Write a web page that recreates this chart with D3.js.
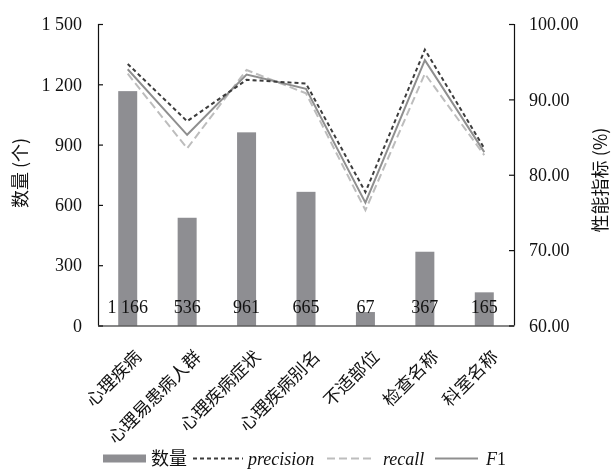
<!DOCTYPE html>
<html>
<head>
<meta charset="utf-8">
<script src="https://cdn.jsdelivr.net/npm/d3@7"></script>
<style>
  html, body { margin: 0; padding: 0; background: #fff; }
  svg { display: block; will-change: transform; }
  text { font-family: "Liberation Serif", "Noto Sans CJK SC", serif; fill: #111; }
  .cjk { font-family: "Noto Sans CJK SC", "Liberation Serif", serif; }
</style>
</head>
<body>
<svg id="chart" width="612" height="469"></svg>
<script>
const categories = ["心理疾病", "心理易患病人群", "心理疾病症状", "心理疾病别名", "不适部位", "检查名称", "科室名称"];
const counts = [1166, 536, 961, 665, 67, 367, 165];
const precision = [94.7, 87.1, 92.6, 92.1, 77.7, 96.6, 83.5];
const recall = [93.4, 83.5, 93.9, 90.8, 75.3, 93.4, 82.6];
const f1 = [94.0, 85.3, 93.3, 91.4, 76.3, 95.2, 83.0];
const leftTicks = [0, 300, 600, 900, 1200, 1500];
const rightTicks = [60, 70, 80, 90, 100];

const svg = d3.select("#chart");
const x0 = 98, x1 = 514, yTop = 24, yBot = 325.5;

const x = d3.scaleBand().domain(categories).range([x0, x1]).paddingInner(0).paddingOuter(0);
const yL = d3.scaleLinear().domain([0, 1500]).range([yBot, yTop]);
const yR = d3.scaleLinear().domain([60, 100]).range([yBot, yTop]);

const loc = d3.formatLocale({decimal: ".", thousands: " ", grouping: [3], currency: ["", ""]});
const fmtInt = loc.format(",");
const fmtR = d3.format(".2f");

// bars
const barW = 19;
svg.append("g").selectAll("rect").data(counts).join("rect")
  .attr("x", (d, i) => x(categories[i]) + x.bandwidth() / 2 - barW / 2)
  .attr("y", d => yL(d))
  .attr("width", barW)
  .attr("height", d => yBot - yL(d))
  .attr("fill", "#8e8e92");

// axes
const axL = d3.axisLeft(yL).tickValues(leftTicks).tickSize(-5).tickPadding(16).tickFormat(fmtInt);
const gL = svg.append("g").attr("transform", `translate(${x0},0)`).call(axL);
const axR = d3.axisRight(yR).tickValues(rightTicks).tickSize(-5).tickPadding(15).tickFormat(fmtR);
const gR = svg.append("g").attr("transform", `translate(${x1},0)`).call(axR);
const axB = d3.axisBottom(x).tickSize(0).tickFormat("");
const gB = svg.append("g").attr("transform", `translate(0,${yBot})`).call(axB);
[gL, gR, gB].forEach(g => {
  g.select(".domain").attr("stroke", "#111").attr("stroke-width", 1.2);
  g.selectAll(".tick line").attr("stroke", "#111").attr("stroke-width", 1.2);
  g.selectAll(".tick text").attr("font-size", 18).attr("fill", "#111");
});
gL.select(".domain").attr("d", `M0.5,${yTop}V${yBot}`);
gR.select(".domain").attr("d", `M0.5,${yTop}V${yBot}`);

// lines
const line = arr => d3.line()
  .x((d, i) => x(categories[i]) + x.bandwidth() / 2)
  .y(d => yR(d))(arr);
svg.append("path").attr("d", line(recall)).attr("fill", "none")
  .attr("stroke", "#bdbdbd").attr("stroke-width", 2).attr("stroke-dasharray", "8,4");
svg.append("path").attr("d", line(f1)).attr("fill", "none")
  .attr("stroke", "#8f8f8f").attr("stroke-width", 2);
svg.append("path").attr("d", line(precision)).attr("fill", "none")
  .attr("stroke", "#3c3c3c").attr("stroke-width", 2).attr("stroke-dasharray", "4,3");

// bar labels
svg.append("g").selectAll("text").data(counts).join("text")
  .attr("x", (d, i) => x(categories[i]) + x.bandwidth() / 2)
  .attr("y", 313)
  .attr("text-anchor", "middle")
  .attr("font-size", 18)
  .text(d => fmtInt(d));

// category labels
svg.append("g").selectAll("text").data(categories).join("text")
  .attr("class", "cjk")
  .attr("text-anchor", "end")
  .attr("font-size", 17.5)
  .attr("transform", d => `translate(${x(d) + x.bandwidth() / 2 + 15},${358}) rotate(-45)`)
  .text(d => d);

// axis titles
svg.append("text").attr("class", "cjk").attr("font-size", 18)
  .attr("text-anchor", "middle")
  .attr("transform", "translate(27,173) rotate(-90)")
  .text("数量 (个)");
svg.append("text").attr("class", "cjk").attr("font-size", 18)
  .attr("text-anchor", "middle")
  .attr("transform", "translate(607,180) rotate(-90)")
  .text("性能指标 (%)");

// legend
const lg = svg.append("g");
const ly = 458.5;
lg.append("rect").attr("x", 103).attr("y", ly - 4).attr("width", 43).attr("height", 8).attr("fill", "#8e8e92");
lg.append("text").attr("class", "cjk").attr("x", 151).attr("y", ly + 6).attr("font-size", 18).text("数量");
lg.append("line").attr("x1", 193).attr("x2", 243).attr("y1", ly).attr("y2", ly)
  .attr("stroke", "#3c3c3c").attr("stroke-width", 2).attr("stroke-dasharray", "4,3");
lg.append("text").attr("x", 248).attr("y", ly + 6).attr("font-size", 18).attr("font-style", "italic").text("precision");
lg.append("line").attr("x1", 327).attr("x2", 374).attr("y1", ly).attr("y2", ly)
  .attr("stroke", "#bdbdbd").attr("stroke-width", 2).attr("stroke-dasharray", "8,4");
lg.append("text").attr("x", 383).attr("y", ly + 6).attr("font-size", 18).attr("font-style", "italic").text("recall");
lg.append("line").attr("x1", 435).attr("x2", 478).attr("y1", ly).attr("y2", ly)
  .attr("stroke", "#8f8f8f").attr("stroke-width", 2);
const f1t = lg.append("text").attr("x", 486).attr("y", ly + 6).attr("font-size", 18);
f1t.append("tspan").attr("font-style", "italic").text("F");
f1t.append("tspan").text("1");
</script>
</body>
</html>
